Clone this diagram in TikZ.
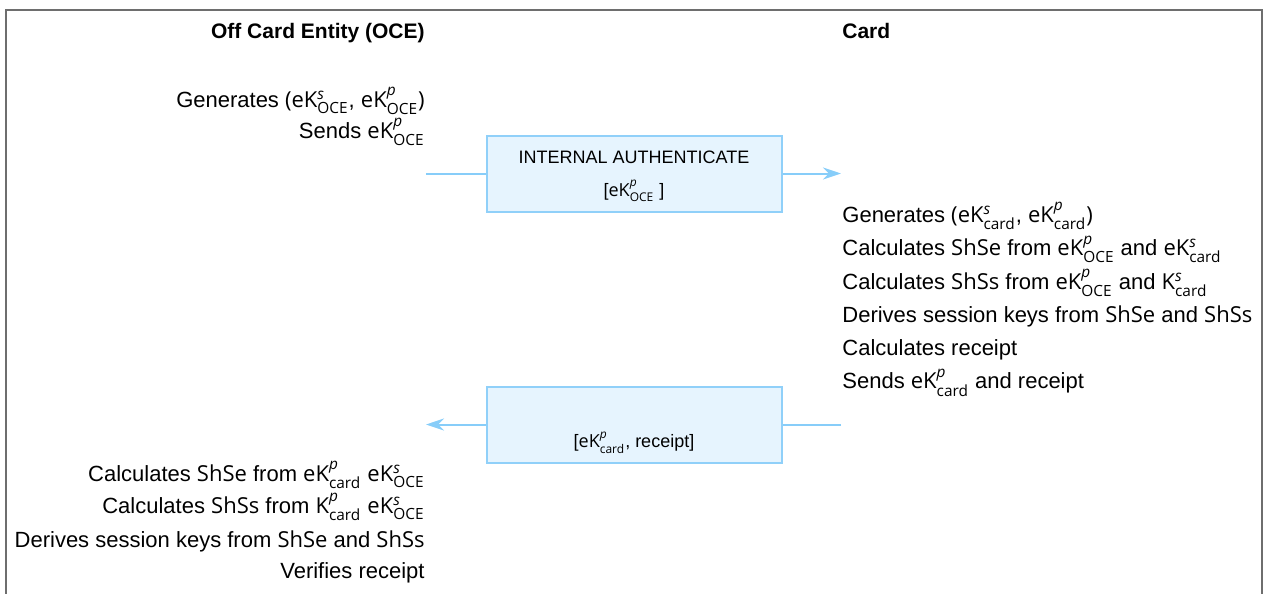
\documentclass[tikz,border=0pt]{standalone}
\usepackage{amsmath}
\usepackage{fontspec}
\setmainfont{Liberation Sans}
\newfontfamily\keyfont{Open Sans}
\usetikzlibrary{arrows.meta}
\definecolor{msgline}{HTML}{87CDF9}
\definecolor{msgedge}{HTML}{90D0F9}
\definecolor{msgfill}{HTML}{E6F4FE}
\definecolor{framegray}{HTML}{6E6E6E}
\newcommand{\ek}[3]{{\keyfont #1}$^{\text{\keyfont\itshape #2}}_{\text{\keyfont #3}}$}
\newcommand{\shk}[1]{{\keyfont #1}}

\begin{document}
\begin{tikzpicture}[x=0.5pt,y=-0.5pt,
    every node/.style={font=\fontsize{11}{13}\selectfont, inner sep=0pt},
    head/.style={font=\fontsize{10.5}{13}\selectfont\bfseries},
    apdutext/.style={font=\fontsize{9}{11}\selectfont},
    apdu/.style={draw=msgedge, fill=msgfill, line width=1pt, minimum width=147.5pt, minimum height=38pt},
    msg/.style={draw=msgline, line width=1pt},
    tip/.style={-{Stealth[length=9pt,width=6pt,inset=3pt]}}]
  \useasboundingbox (0,0) rectangle (1265,594);
  \draw[framegray, line width=0.7pt] (6,594) -- (6,10) -- (1262,10) -- (1262,594);

  \node[head, anchor=base east] (oce) at (425,38.5) {Off Card Entity (OCE)};
  \node[head, anchor=base west] (card) at (842,38.5) {Card};

  \node[anchor=base east] (ocegen) at (425,107) {Generates \shk{(}\ek{eK}{s}{OCE}, \ek{eK}{p}{OCE}\shk{)}};
  \node[anchor=base east] (ocesend) at (425,138) {Sends \ek{eK}{p}{OCE}};

  \node[apdu] (intauth) at (634,173.5) {};
  \node[apdutext, anchor=base] (intauthname) at (634,163) {INTERNAL AUTHENTICATE};
  \node[apdutext, anchor=base] (intauthdata) at (634,196) {[\ek{eK}{p}{OCE} ]};
  \coordinate (cmdstart) at (426,173.5);
  \coordinate (cmdend) at (841,173.5);
  \draw[msg] (cmdstart) -- (intauth.west);
  \draw[msg, tip] (intauth.east) -- (cmdend);

  \node[anchor=base west] (cardgen) at (842,222) {Generates \shk{(}\ek{eK}{s}{card}, \ek{eK}{p}{card}\shk{)}};
  \node[anchor=base west] (cardshse) at (842,255.5) {Calculates \shk{ShSe} from \ek{eK}{p}{OCE} and \ek{eK}{s}{card}};
  \node[anchor=base west] (cardshss) at (842,289) {Calculates \shk{ShSs} from \ek{eK}{p}{OCE} and \ek{K}{s}{card}};
  \node[anchor=base west] (cardderive) at (842,322.5) {Derives session keys from \shk{ShSe} and \shk{ShSs}};
  \node[anchor=base west] (cardrcpt) at (842,355.5) {Calculates receipt};
  \node[anchor=base west] (cardsend) at (842,388.5) {Sends \ek{eK}{p}{card} and receipt};

  \node[apdu] (rsp) at (634,424.5) {};
  \node[apdutext, anchor=base] (rspdata) at (634,447.5) {[\ek{eK}{p}{card}, receipt]};
  \coordinate (rspstart) at (841,424.5);
  \coordinate (rspend) at (426,424.5);
  \draw[msg] (rspstart) -- (rsp.east);
  \draw[msg, tip] (rsp.west) -- (rspend);

  \node[anchor=base east] (ocecalcse) at (425,481) {Calculates \shk{ShSe} from \ek{eK}{p}{card} \ek{eK}{s}{OCE}};
  \node[anchor=base east] (ocecalcss) at (425,513) {Calculates \shk{ShSs} from \ek{K}{p}{card} \ek{eK}{s}{OCE}};
  \node[anchor=base east] (ocederive) at (425,547) {Derives session keys from \shk{ShSe} and \shk{ShSs}};
  \node[anchor=base east] (oceverify) at (425,578) {Verifies receipt};
\end{tikzpicture}
\end{document}
